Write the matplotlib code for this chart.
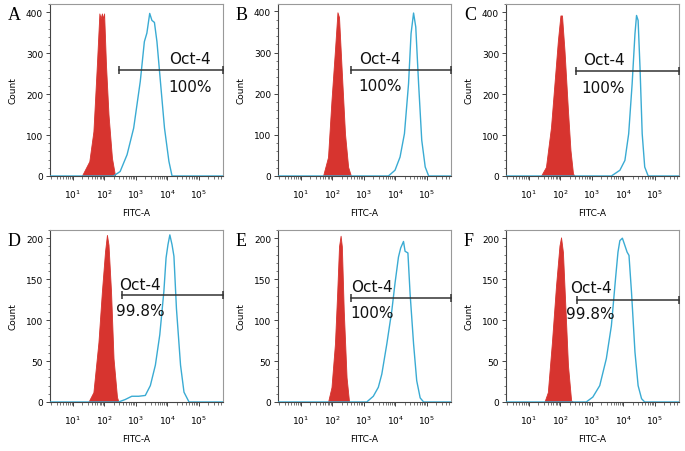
import numpy as np
import matplotlib.pyplot as plt
from matplotlib.ticker import LogLocator, MultipleLocator, FixedFormatter, FixedLocator

# curves: x in log10 units, y = count
panels = ['A', 'B', 'C', 'D', 'E', 'F']

red_x = {
    'A': [1.28, 1.52, 1.65, 1.76, 1.84, 1.88, 1.92, 1.96, 1.99, 2.05, 2.13, 2.24, 2.34],
    'B': [1.70, 1.86, 1.97, 2.08, 2.16, 2.21, 2.29, 2.40, 2.50, 2.59],
    'C': [1.38, 1.54, 1.70, 1.81, 1.92, 2.00, 2.05, 2.13, 2.24, 2.32, 2.40, 2.45],
    'D': [1.49, 1.65, 1.81, 1.92, 2.02, 2.08, 2.13, 2.21, 2.29, 2.40, 2.45],
    'E': [1.86, 1.97, 2.08, 2.15, 2.21, 2.26, 2.30, 2.36, 2.45, 2.53],
    'F': [1.49, 1.60, 1.73, 1.86, 1.97, 2.02, 2.08, 2.16, 2.24, 2.34, 2.40],
}
red_y = {
    'A': [0, 36, 109, 271, 397, 385, 397, 385, 397, 271, 150, 44, 0],
    'B': [0, 46, 184, 305, 398, 386, 265, 103, 22, 0],
    'C': [0, 22, 119, 225, 331, 392, 392, 306, 160, 63, 6, 0],
    'D': [0, 12, 73, 135, 184, 204, 192, 135, 53, 6, 0],
    'E': [0, 18, 71, 132, 190, 203, 190, 112, 30, 0],
    'F': [0, 12, 73, 142, 191, 201, 183, 114, 45, 2, 0],
}

blue_x = {
    'A': [0.27, 2.29, 2.50, 2.72, 2.93, 3.14, 3.27, 3.35, 3.44, 3.51, 3.59, 3.67, 3.78, 3.91, 4.05, 4.15, 5.77],
    'B': [0.27, 3.78, 3.99, 4.15, 4.29, 4.42, 4.50, 4.58, 4.65, 4.74, 4.84, 4.95, 5.06, 5.77],
    'C': [0.27, 3.62, 3.89, 4.05, 4.17, 4.28, 4.37, 4.42, 4.47, 4.53, 4.60, 4.68, 4.79, 5.77],
    'D': [0.27, 2.45, 2.66, 2.87, 3.09, 3.30, 3.46, 3.62, 3.76, 3.89, 3.96, 4.02, 4.08, 4.15, 4.21,
          4.29, 4.42, 4.53, 4.69, 5.77],
    'E': [0.27, 3.09, 3.30, 3.46, 3.57, 3.73, 3.89, 3.99, 4.10, 4.17, 4.26, 4.31, 4.40, 4.47, 4.58,
          4.68, 4.79, 4.90, 5.77],
    'F': [0.27, 2.82, 3.03, 3.25, 3.46, 3.62, 3.76, 3.83, 3.89, 3.97, 4.05, 4.12, 4.18, 4.26, 4.37,
          4.47, 4.58, 4.68, 5.77],
}
blue_y = {
    'A': [0, 0, 11, 52, 117, 231, 328, 349, 397, 380, 375, 328, 231, 117, 36, 0, 0],
    'B': [0, 0, 14, 46, 103, 224, 346, 396, 362, 224, 87, 22, 0, 0],
    'C': [0, 0, 14, 38, 103, 225, 347, 392, 380, 266, 103, 22, 0, 0],
    'D': [0, 0, 3, 7, 7, 8, 20, 45, 82, 135, 176, 192, 204, 192, 178, 114, 45, 12, 0, 0],
    'E': [0, 0, 7, 18, 34, 71, 112, 145, 177, 188, 196, 184, 182, 132, 71, 26, 5, 0, 0],
    'F': [0, 0, 6, 20, 53, 93, 154, 183, 197, 200, 191, 183, 179, 134, 61, 20, 4, 0, 0],
}

# gate: start (log10), height (count), label centre (log10), label heights
gate_start = {'A': 2.45, 'B': 2.59, 'C': 2.50, 'D': 2.55, 'E': 2.59, 'F': 2.52}
gate_y = {'A': 259, 'B': 257, 'C': 256, 'D': 131, 'E': 127, 'F': 125}
label_x = {'A': 4.72, 'B': 3.51, 'C': 3.37, 'D': 3.14, 'E': 3.25, 'F': 2.96}
label_y1 = {'A': 288, 'B': 285, 'C': 284, 'D': 144, 'E': 141, 'F': 140}
label_y2 = {'A': 219, 'B': 220, 'C': 215, 'D': 112, 'E': 109, 'F': 108}
percent = {'A': '100%', 'B': '100%', 'C': '100%', 'D': '99.8%', 'E': '100%', 'F': '99.8%'}
ymax = {'A': 420, 'B': 418, 'C': 420, 'D': 210, 'E': 210, 'F': 210}

decades = [1, 2, 3, 4, 5]
decade_labels = ['$10^{1}$', '$10^{2}$', '$10^{3}$', '$10^{4}$', '$10^{5}$']

RED = '#d7342f'
BLUE = '#3aabd3'

plt.rcParams['mathtext.default'] = 'regular'
W, H = 685, 452
fig = plt.figure(figsize=(W / 100, H / 100), dpi=100)

lefts = [50, 278, 506]
tops = [5, 231]
aw, ah = 173, 172

for i, p in enumerate(panels):
    r, c = divmod(i, 3)
    x0, y0 = lefts[c], tops[r]
    ax = fig.add_axes([x0 / W, 1 - (y0 + ah) / H, aw / W, ah / H])
    ax.set_xscale('log')
    xl = (10 ** 0.27, 10 ** 5.77)
    ax.set_xlim(xl)
    ax.set_ylim(0, ymax[p])

    rx = 10 ** np.array(red_x[p])
    ax.fill_between(rx, red_y[p], 0, color=RED, lw=0.6, zorder=2)
    bx = 10 ** np.array(blue_x[p])
    ax.plot(bx, blue_y[p], color=BLUE, lw=1.0, zorder=3)

    gx = 10 ** gate_start[p]
    ax.plot([gx, xl[1]], [gate_y[p], gate_y[p]], color='#333333', lw=1.1,
            marker='|', ms=6, mew=1.1, clip_on=False, zorder=4)
    ax.text(10 ** label_x[p], label_y1[p], 'Oct-4', ha='center', va='center',
            fontsize=11, color='#111111')
    ax.text(10 ** label_x[p], label_y2[p], percent[p], ha='center', va='center',
            fontsize=11, color='#111111')

    ax.xaxis.set_major_locator(FixedLocator([10 ** d for d in decades]))
    ax.xaxis.set_major_formatter(FixedFormatter(decade_labels))
    ax.xaxis.set_minor_locator(LogLocator(base=10, subs=np.arange(2, 10)))
    ax.xaxis.set_minor_formatter(FixedFormatter([]))
    if ymax[p] > 300:
        ax.yaxis.set_major_locator(MultipleLocator(100))
        ax.yaxis.set_minor_locator(MultipleLocator(20))
    else:
        ax.yaxis.set_major_locator(MultipleLocator(50))
        ax.yaxis.set_minor_locator(MultipleLocator(10))

    ax.tick_params(axis='both', which='major', labelsize=6.5, length=3, width=0.7,
                   color='#444444', pad=2)
    ax.tick_params(axis='both', which='minor', length=1.8, width=0.5, color='#444444')
    ax.tick_params(axis='x', which='major', pad=5)
    for s in ['top', 'right']:
        ax.spines[s].set_color('#999999')
        ax.spines[s].set_linewidth(0.8)
    for s in ['left', 'bottom']:
        ax.spines[s].set_color('#444444')
        ax.spines[s].set_linewidth(0.8)

    ax.set_xlabel('FITC-A', fontsize=6.5, labelpad=6)
    ax.set_ylabel('Count', fontsize=6.5, labelpad=6)

    fig.text((x0 - 42) / W, 1 - (y0 + 11) / H, p, fontsize=13,
             family='Liberation Serif', ha='left', va='center')

fig.savefig('out.png', dpi=100)
